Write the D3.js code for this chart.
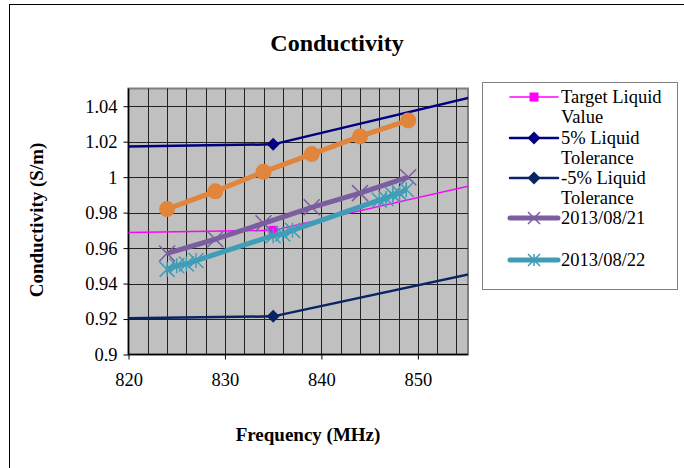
<!DOCTYPE html>
<html lang="en">
<head>
<meta charset="utf-8">
<title>Conductivity</title>
<script src="https://cdn.jsdelivr.net/npm/d3@7"></script>
<style>
  body { margin: 0; background: #fff; }
  svg text { font-family: "Liberation Serif", "Times New Roman", serif; fill: #000; }
</style>
</head>
<body>
<div id="chart"></div>
<script>
// target / tolerance reference points (line runs past the plot and gets clipped)
var refFreq = [450, 835, 900];
var targetVal = [0.94, 0.97, 1.05];
var plus5Val = [0.987, 1.0185, 1.1025];
var minus5Val = [0.893, 0.9215, 0.9975];

// orange series (not listed in the legend)
var orangeFreq = [824, 829, 834, 839, 844, 849];
var orangeVal = [0.982, 0.992, 1.003, 1.013, 1.023, 1.032];

// 2013/08/21
var day21Freq = [824, 829, 834, 839, 844, 849];
var day21Val = [0.957, 0.965, 0.974, 0.983, 0.991, 1.000];

// 2013/08/22
var day22Freq = [824, 825, 826, 827, 835, 836, 837, 846, 846.7, 847.4, 848.1, 848.8];
var day22Val = [0.948, 0.950, 0.951, 0.953, 0.967, 0.968, 0.970, 0.987, 0.988, 0.990, 0.991, 0.993];

var xTicks = [820, 830, 840, 850];
var yTicks = [0.9, 0.92, 0.94, 0.96, 0.98, 1, 1.02, 1.04];

var w = 684, h = 468;
var pL = 128.5, pR = 468, pT = 88.5, pB = 354.5;

var svg = d3.select("#chart").append("svg")
    .attr("width", w).attr("height", h);

// outer chart border (runs off the right and bottom edges)
svg.append("rect")
    .attr("x", 9.5).attr("y", 4.5)
    .attr("width", 700).attr("height", 500)
    .attr("fill", "#fff").attr("stroke", "#000").attr("stroke-width", 1);

var x = d3.scaleLinear().domain([820, 855.2]).range([pL, pR]);
var y = d3.scaleLinear().domain([0.9, 1.05]).range([pB, pT]);

// plot area
svg.append("rect")
    .attr("x", pL).attr("y", pT)
    .attr("width", pR - pL).attr("height", pB - pT)
    .attr("fill", "#c0c0c0").attr("stroke", "#808080").attr("stroke-width", 2);

// gridlines
var vGrid = d3.range(822, 855, 2);
svg.append("g").selectAll("line").data(vGrid).enter().append("line")
    .attr("x1", function(d) { return Math.round(x(d)) + 0.5; })
    .attr("x2", function(d) { return Math.round(x(d)) + 0.5; })
    .attr("y1", pT).attr("y2", pB)
    .attr("stroke", "#222").attr("stroke-width", 1);
svg.append("g").selectAll("line").data(yTicks.slice(1)).enter().append("line")
    .attr("x1", pL).attr("x2", pR)
    .attr("y1", function(d) { return Math.round(y(d)) + 0.5; })
    .attr("y2", function(d) { return Math.round(y(d)) + 0.5; })
    .attr("stroke", "#222").attr("stroke-width", 1);

// axes
var xAxis = svg.append("g")
    .attr("transform", "translate(0," + pB + ")")
    .call(d3.axisBottom(x).tickValues(xTicks).tickSize(5).tickPadding(13).tickFormat(d3.format("d")));
var yAxis = svg.append("g")
    .attr("transform", "translate(" + pL + ",0)")
    .call(d3.axisLeft(y).tickValues(yTicks).tickSize(5).tickPadding(6).tickFormat(function(d) { return String(+d.toFixed(2)); }));
[xAxis, yAxis].forEach(function(a) {
  a.select(".domain").attr("stroke", "#000").attr("stroke-width", 1.5);
  a.selectAll(".tick line").attr("stroke", "#000");
  a.selectAll("text").attr("font-size", 18.5).attr("font-family", "Liberation Serif");
});
xAxis.select(".domain").attr("d", "M" + pL + ",0H" + pR);
yAxis.select(".domain").attr("d", "M0,0V" + (pT - pB)).attr("transform", "translate(0," + pB + ")");

// clip for data
svg.append("clipPath").attr("id", "plotclip").append("rect")
    .attr("x", pL).attr("y", pT - 8)
    .attr("width", pR - pL).attr("height", pB - pT + 8);

var plot = svg.append("g").attr("clip-path", "url(#plotclip)");

function zipPts(fs, vs) {
  return fs.map(function(f, i) { return [f, vs[i]]; });
}
var line = d3.line().x(function(d) { return x(d[0]); }).y(function(d) { return y(d[1]); });

function drawSeries(pts, color, width, marker, size) {
  plot.append("path").datum(pts)
      .attr("d", line).attr("fill", "none")
      .attr("stroke", color).attr("stroke-width", width)
      .attr("stroke-linejoin", "round");
  var g = plot.append("g");
  pts.forEach(function(p) {
    drawMarker(g, x(p[0]), y(p[1]), color, marker, size);
  });
}

function drawMarker(g, cx, cy, color, marker, size) {
  var s = size / 2;
  if (marker === "square") {
    g.append("rect").attr("x", cx - s).attr("y", cy - s)
        .attr("width", size).attr("height", size).attr("fill", color);
  } else if (marker === "diamond") {
    g.append("path").attr("d", "M" + cx + "," + (cy - s) + "L" + (cx + s) + "," + cy +
        "L" + cx + "," + (cy + s) + "L" + (cx - s) + "," + cy + "Z").attr("fill", color);
  } else if (marker === "circle") {
    g.append("circle").attr("cx", cx).attr("cy", cy).attr("r", s).attr("fill", color);
  } else if (marker === "x") {
    g.append("path").attr("d", "M" + (cx - s) + "," + (cy - s) + "L" + (cx + s) + "," + (cy + s) +
        "M" + (cx + s) + "," + (cy - s) + "L" + (cx - s) + "," + (cy + s))
        .attr("stroke", color).attr("stroke-width", 1.5);
  } else if (marker === "star") {
    g.append("path").attr("d", "M" + (cx - s) + "," + (cy - s) + "L" + (cx + s) + "," + (cy + s) +
        "M" + (cx + s) + "," + (cy - s) + "L" + (cx - s) + "," + (cy + s) +
        "M" + cx + "," + (cy - s) + "L" + cx + "," + (cy + s))
        .attr("stroke", color).attr("stroke-width", 1.5);
  }
}

var cTarget = "#ff00ff", cPlus = "#000080", cMinus = "#0a2463";
var cOrange = "#e0853b", cPurple = "#7b5ea0", cCyan = "#3f9db8";

drawSeries(zipPts(refFreq, targetVal), cTarget, 1.5, "square", 9);
drawSeries(zipPts(refFreq, plus5Val), cPlus, 2.5, "diamond", 13);
drawSeries(zipPts(refFreq, minus5Val), cMinus, 2.5, "diamond", 13);
drawSeries(zipPts(orangeFreq, orangeVal), cOrange, 5, "circle", 16);
drawSeries(zipPts(day21Freq, day21Val), cPurple, 5, "x", 16);
drawSeries(zipPts(day22Freq, day22Val), cCyan, 5, "star", 15);

// titles
svg.append("text").attr("x", 337).attr("y", 51).attr("text-anchor", "middle")
    .attr("font-size", 24).attr("font-weight", "bold").text("Conductivity");
svg.append("text").attr("x", 308).attr("y", 441).attr("text-anchor", "middle")
    .attr("font-size", 19).attr("font-weight", "bold").text("Frequency (MHz)");
svg.append("text").attr("transform", "translate(43,220) rotate(-90)").attr("text-anchor", "middle")
    .attr("font-size", 19).attr("font-weight", "bold").text("Conductivity  (S/m)");

// legend
var legend = svg.append("g");
legend.append("rect").attr("x", 482.5).attr("y", 82.5).attr("width", 195).attr("height", 207)
    .attr("fill", "#fff").attr("stroke", "#808080").attr("stroke-width", 1);
var legendItems = [
  { lines: ["Target Liquid", "Value"], color: cTarget, width: 1.5, marker: "square", size: 9, y: 97 },
  { lines: ["5% Liquid", "Tolerance"], color: cPlus, width: 2.5, marker: "diamond", size: 13, y: 138 },
  { lines: ["-5% Liquid", "Tolerance"], color: cMinus, width: 2.5, marker: "diamond", size: 13, y: 178 },
  { lines: ["2013/08/21"], color: cPurple, width: 5, marker: "x", size: 12, y: 218 },
  { lines: ["2013/08/22"], color: cCyan, width: 5, marker: "star", size: 12, y: 260 }
];
legendItems.forEach(function(it) {
  legend.append("line").attr("x1", 510).attr("x2", 558).attr("y1", it.y).attr("y2", it.y)
      .attr("stroke", it.color).attr("stroke-width", it.width).attr("stroke-linecap", "round");
  drawMarker(legend, 534, it.y, it.color, it.marker, it.size);
  it.lines.forEach(function(t, i) {
    legend.append("text").attr("x", 561).attr("y", it.y + 6 + i * 20)
        .attr("font-size", 18.5).text(t);
  });
});
</script>
</body>
</html>
